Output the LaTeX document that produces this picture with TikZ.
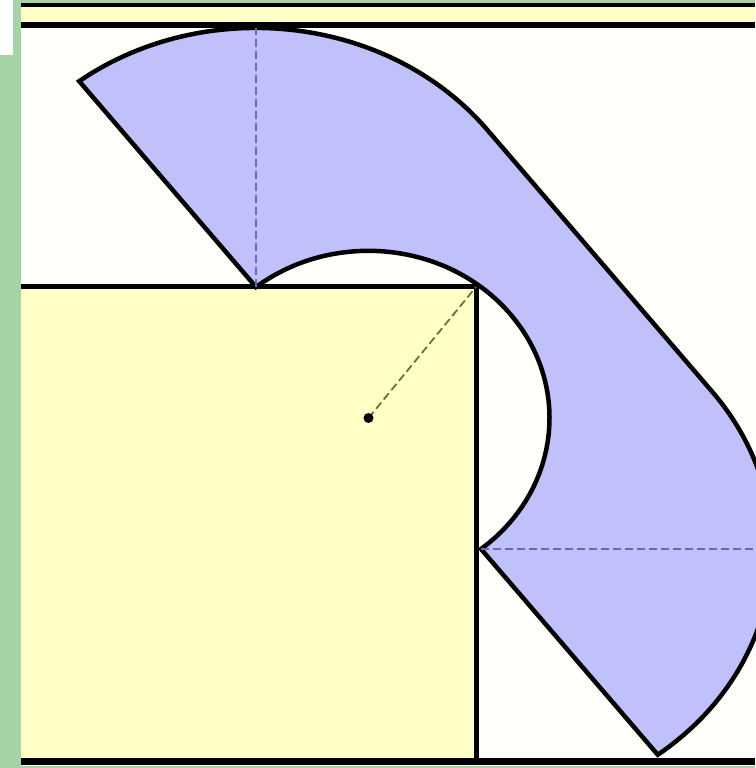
\documentclass[tikz,border=0pt]{standalone}
\usetikzlibrary{calc}
\definecolor{bggreen}{RGB}{166,211,166}
\definecolor{wallyellow}{RGB}{255,255,198}
\definecolor{sofablue}{RGB}{192,192,250}
\definecolor{dashblue}{RGB}{105,105,190}
\definecolor{hallwhite}{RGB}{255,255,251}
\definecolor{dashdark}{RGB}{110,110,60}
\tikzset{
  wall/.style={draw=black, line width=5pt},
  sofaline/.style={draw=black, line width=4.5pt, line join=miter, fill=sofablue},
  bluedash/.style={draw=dashblue, line width=1.8pt, dash pattern=on 8pt off 4pt},
  darkdash/.style={draw=dashdark, line width=1.8pt, dash pattern=on 8pt off 4pt},
}
\begin{document}
\begin{tikzpicture}[x=1pt,y=1pt]
\useasboundingbox (0,0) rectangle (755,768);
% background
\fill[bggreen] (0,0) rectangle (755,768);
\fill[white] (0,713) rectangle (13,768);
\fill[hallwhite] (21,2) rectangle (755,765);
% top strip
\fill[wallyellow] (21,743) rectangle (755,763);
\draw[black, line width=4pt] (21,763) -- (755,763);
\draw[black, line width=6.5pt] (21,743) -- (755,743);
% inner block
\coordinate (sqTL) at (21,481);
\coordinate (corner) at (476,481);
\coordinate (sqBR) at (476,6);
\fill[wallyellow] (21,6) rectangle (corner);
\draw[wall] (sqTL) -- (corner) -- (sqBR);
% sofa geometry
\coordinate (C1) at (256,481);
\coordinate (C2) at (481,219);
\coordinate (M) at (368.5,350);
\coordinate (tip1) at (79.2,686.8);
\path[sofaline] (tip1)
  arc[start angle=127.4, end angle=37.4, x radius=291pt, y radius=259pt]
  -- (712.2,376.3)
  arc[start angle=37.4, end angle=-52.6, x radius=291pt, y radius=259pt]
  -- (C2)
  arc[start angle=-51.57, end angle=128.43, x radius=181pt, y radius=167.2pt]
  -- cycle;
% dashed guides
\coordinate (C1top) at (256,740);
\coordinate (C2right) at (755,219);
\draw[bluedash] (C1) -- (C1top);
\draw[bluedash] (C2) -- (C2right);
\draw[darkdash] (M) -- (corner);
\fill[black] (M) circle (5pt);
% bottom wall
\draw[black, line width=7pt] (21,6) -- (755,6);
\end{tikzpicture}
\end{document}
